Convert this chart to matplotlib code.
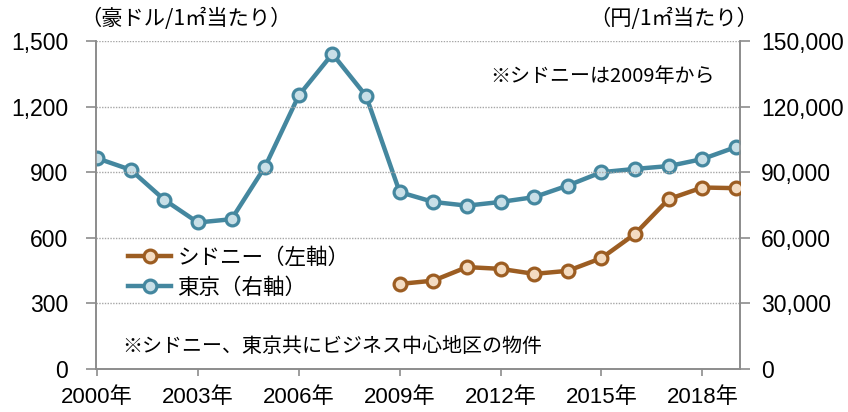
import matplotlib
matplotlib.use("Agg")
import matplotlib.pyplot as plt
from matplotlib.lines import Line2D

plt.rcParams['font.family'] = ['Noto Sans CJK JP', 'DejaVu Sans']

years = list(range(2000, 2020))
tokyo = [96400, 91100, 77400, 67000, 68500, 92600, 125100, 144100, 124900,
         80900, 76400, 74700, 76400, 78600, 83900, 90000, 91500, 92800, 96000, 101500]
sydney_years = list(range(2009, 2020))
sydney = [389, 404, 466, 458, 435, 449, 507, 618, 777, 830, 827]
xtick_years = [2000, 2003, 2006, 2009, 2012, 2015, 2018]
xtick_labels = [f"{y}年" for y in xtick_years]
left_ticks = [0, 300, 600, 900, 1200, 1500]
right_ticks = [0, 30000, 60000, 90000, 120000, 150000]

tokyo_line = '#44879f'
tokyo_face = '#c8dfe7'
syd_line = '#9c5d22'
syd_face = '#f4dcc2'
gray = '#8c8c8c'
LW, MS, MEW = 3.2, 9.2, 2.3

fig = plt.figure(figsize=(8.48, 4.12), dpi=100)
ax = fig.add_axes([96/848, 1-369/412, (740-96)/848, (369-41)/412])
ax2 = ax.twinx()

xi_t = [y - 2000 for y in years]
xi_s = [y - 2000 for y in sydney_years]

ax.set_xlim(-0.03, 19.12)
ax.set_ylim(0, 1500)
ax2.set_ylim(0, 150000)

for v in left_ticks[1:]:
    ax.axhline(v, color='#a6a6a6', lw=1.0, ls=(0, (1, 1)), zorder=0)

ax2.plot(xi_t, tokyo, color=tokyo_line, lw=LW, marker='o', ms=MS,
         mfc=tokyo_face, mec=tokyo_line, mew=MEW, zorder=3)
ax.plot(xi_s, sydney, color=syd_line, lw=LW, marker='o', ms=MS,
        mfc=syd_face, mec=syd_line, mew=MEW, zorder=3)
ax.set_zorder(ax2.get_zorder() + 1)
ax.patch.set_visible(False)

ax.set_yticks(left_ticks)
ax.set_yticklabels([f"{v:,}" for v in left_ticks])
ax2.set_yticks(right_ticks)
ax2.set_yticklabels([f"{v:,}" for v in right_ticks])
ax.set_xticks([y - 2000 for y in xtick_years])
ax.set_xticklabels(xtick_labels)

for lab in ax.get_yticklabels() + ax2.get_yticklabels():
    lab.set_fontfamily(['Liberation Sans', 'DejaVu Sans'])
    lab.set_fontsize(16.5)
for lab in ax.get_xticklabels():
    lab.set_fontfamily(['Liberation Sans', 'Noto Sans CJK JP'])
    lab.set_fontsize(16)

for a in (ax, ax2):
    for s in a.spines.values():
        s.set_color(gray)
        s.set_linewidth(1.2)
    a.spines['top'].set_visible(False)
    a.tick_params(colors=gray, labelcolor='black', length=7, width=1.2, direction='out')
ax.tick_params(axis='x', length=5, pad=8)
ax.tick_params(axis='y', pad=13)
ax2.tick_params(axis='y', pad=8)

fig.text(80/848, 1-19/412, '（豪ドル/1㎡当たり）', fontsize=15.3, va='center', ha='left')
fig.text(758/848, 1-19/412, '（円/1㎡当たり）', fontsize=15.3, va='center', ha='right')
fig.text(490/848, 1-76/412, '※シドニーは2009年から', fontsize=14.4, va='center', ha='left')
fig.text(122/848, 1-346/412, '※シドニー、東京共にビジネス中心地区の物件', fontsize=14.4, va='center', ha='left')

handles = [
    Line2D([0], [0], color=syd_line, lw=LW, marker='o', ms=MS, mfc=syd_face, mec=syd_line, mew=MEW),
    Line2D([0], [0], color=tokyo_line, lw=LW, marker='o', ms=MS, mfc=tokyo_face, mec=tokyo_line, mew=MEW),
]
leg = ax.legend(handles, ['シドニー（左軸）', '東京（右軸）'], loc='upper left',
                bbox_to_anchor=(128/848, 1-247/412), bbox_transform=fig.transFigure,
                frameon=False, fontsize=15.5, handlelength=2.0, handletextpad=0.3,
                labelspacing=0.35, borderaxespad=0, borderpad=0)

fig.savefig('out.png', dpi=100)
